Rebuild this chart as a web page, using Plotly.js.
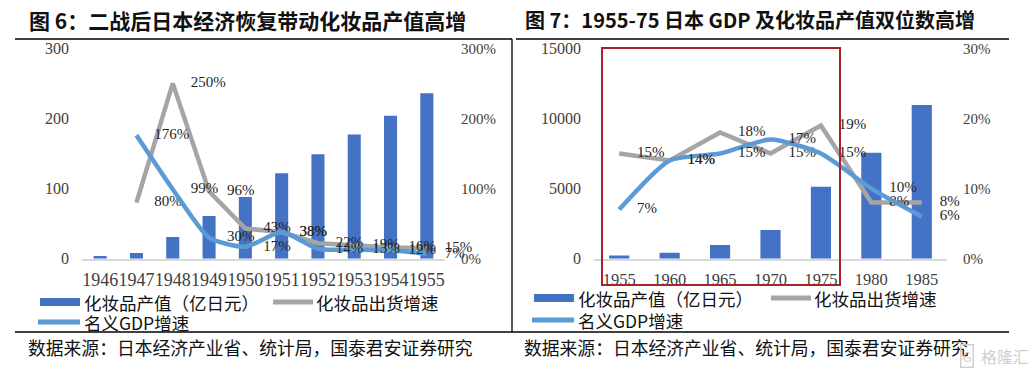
<!DOCTYPE html>
<html>
<head>
<meta charset="utf-8">
<script src="https://cdn.plot.ly/plotly-3.0.1.min.js"></script>
<style>html,body{margin:0;padding:0;background:#fff;}#chart{width:1032px;height:372px;}</style>
</head>
<body>
<div id="chart"></div>
<script>
// ---- Data ----
var years1 = ['1946','1947','1948','1949','1950','1951','1952','1953','1954','1955'];
var cosmeticOutput1 = [4, 8, 31, 61, 88, 122, 149, 177, 204, 236];       // 化妆品产值（亿日元）
var shipmentGrowth1 = [null, 80, 250, 96, 43, 38, 22, 19, 16, 15];        // 化妆品出货增速 (%)
var gdpGrowth1 = [null, 176, 99, 30, 17, 38, 14, 13, 12, 7];              // 名义GDP增速 (%)

var years2 = ['1955','1960','1965','1970','1975','1980','1985'];
var cosmeticOutput2 = [236, 430, 980, 2050, 5130, 7560, 10950];
var shipmentGrowth2 = [15, 14, 18, 15, 19, 8, 8];
var gdpGrowth2 = [7, 14, 15, 17, 15, 10, 6];

var leftTicks1 = [0, 100, 200, 300];
var rightTicks1 = [0, 100, 200, 300];
var rightLabels1 = ['0%', '100%', '200%', '300%'];
var leftTicks2 = [0, 5000, 10000, 15000];
var leftLabels2 = ['0', '5000', '10000', '15000'];
var rightTicks2 = [0, 10, 20, 30];
var rightLabels2 = ['0%', '10%', '20%', '30%'];

var names = ['化妆品产值（亿日元）', '化妆品出货增速', '名义GDP增速'];
var title1 = '图 6：二战后日本经济恢复带动化妆品产值高增';
var title2 = '图 7：1955-75 日本 GDP 及化妆品产值双位数高增';
var sourceText = '数据来源：日本经济产业省、统计局，国泰君安证券研究';

// ---- Styles ----
var W = 1032, H = 372;
var BAR = '#4472C4', GREY = '#A5A5A5', BLUE = '#5B9BD5';
var SERIF = '"Liberation Serif", "Times New Roman", serif';
var CJK = '"Noto Sans CJK SC", "Noto Sans", sans-serif';
function px(x){ return x / W; }
function py(y){ return 1 - y / H; }
function pct(arr){ return arr.map(function(v){ return v === null ? '' : v + '%'; }); }

function lineTrace(xs, ys, color, xa, ya, smooth){
  return {
    type: 'scatter', mode: 'lines+markers+text', x: xs, y: ys,
    xaxis: xa, yaxis: ya,
    line: {color: color, width: 4.5, shape: smooth ? 'spline' : 'linear', smoothing: 0.6},
    marker: {size: 27, color: 'rgba(0,0,0,0)'},
    text: pct(ys), textposition: 'middle right',
    textfont: {family: SERIF, size: 15, color: '#262626'},
    cliponaxis: false, hoverinfo: 'skip', showlegend: false
  };
}

var traces = [
  {type: 'bar', x: years1, y: cosmeticOutput1, xaxis: 'x', yaxis: 'y', width: 0.36,
   marker: {color: BAR}, hoverinfo: 'skip', showlegend: false},
  lineTrace(years1, shipmentGrowth1, GREY, 'x', 'y2', false),
  lineTrace(years1, gdpGrowth1, BLUE, 'x', 'y2', true),
  {type: 'bar', x: years2, y: cosmeticOutput2, xaxis: 'x2', yaxis: 'y3', width: 0.4,
   marker: {color: BAR}, hoverinfo: 'skip', showlegend: false},
  lineTrace(years2, shipmentGrowth2, GREY, 'x2', 'y4', false),
  lineTrace(years2, gdpGrowth2, BLUE, 'x2', 'y4', true)
];

var yDom = [py(258.7), py(48.3)];
var tickColor = '#404040';
function xAxis(dom, n, size){
  return {domain: dom, type: 'category', range: [-0.5, n - 0.5], showgrid: false, zeroline: false,
    showline: true, linecolor: '#D9D9D9', linewidth: 2, ticks: '', tickangle: 0,
    tickfont: {family: SERIF, size: size, color: tickColor}, ticklabelstandoff: 4, fixedrange: true};
}
function yAxis(range, ticks, labels, extra){
  var a = {domain: yDom, range: range, tickmode: 'array', tickvals: ticks,
    ticktext: labels || ticks.map(String), showgrid: false, zeroline: false,
    showline: false, ticks: '', tickfont: {family: SERIF, size: 16, color: tickColor},
    ticklabelstandoff: 12, fixedrange: true};
  for (var k in extra) a[k] = extra[k];
  return a;
}
var rightFont = {family: SERIF, size: 15, color: tickColor};

var layout = {
  width: W, height: H, margin: {l: 0, r: 0, t: 0, b: 0},
  paper_bgcolor: '#fff', plot_bgcolor: 'rgba(0,0,0,0)', showlegend: false,
  xaxis: xAxis([px(82), px(445)], years1.length, 18),
  xaxis2: xAxis([px(594), px(947)], years2.length, 16.5),
  yaxis: yAxis([0, 300], leftTicks1, null, {anchor: 'x'}),
  yaxis2: yAxis([0, 300], rightTicks1, rightLabels1, {anchor: 'x', overlaying: 'y', side: 'right', ticklabelstandoff: 15, tickfont: rightFont}),
  yaxis3: yAxis([0, 15000], leftTicks2, leftLabels2, {anchor: 'x2'}),
  yaxis4: yAxis([0, 30], rightTicks2, rightLabels2, {anchor: 'x2', overlaying: 'y3', side: 'right', ticklabelstandoff: 15, tickfont: rightFont}),
  shapes: [], annotations: []
};

function hline(x0, x1, y, color, w){
  layout.shapes.push({type: 'line', xref: 'paper', yref: 'paper', x0: px(x0), x1: px(x1), y0: py(y), y1: py(y), line: {color: color, width: w}});
}
function vline(x, y0, y1, color, w){
  layout.shapes.push({type: 'line', xref: 'paper', yref: 'paper', x0: px(x), x1: px(x), y0: py(y0), y1: py(y1), line: {color: color, width: w}});
}
function text(t, x, y, size, opts){
  var a = {xref: 'paper', yref: 'paper', x: px(x), y: py(y), xanchor: 'left', yanchor: 'middle',
    text: t, showarrow: false, font: {family: CJK, size: size, color: '#111'}};
  for (var k in (opts||{})) a[k] = opts[k];
  layout.annotations.push(a);
}

// frames
hline(15, 512, 39, '#000', 1.3);
hline(516, 1009, 39, '#000', 1.3);
vline(512, 39, 332, '#000', 1.3);
hline(15, 1009, 332, '#000', 1.3);
// titles
text('<b>' + title1 + '</b>', 27, 20, 21);
text('<b>' + title2 + '</b>', 523, 20, 20);
// red highlight box (chart 2)
layout.shapes.push({type: 'rect', xref: 'paper', yref: 'paper', x0: px(602), x1: px(840), y0: py(285), y1: py(48),
  line: {color: '#A8232A', width: 2}, fillcolor: 'rgba(0,0,0,0)', layer: 'above'});

// legends
function legend(x, y1, y2, gx){
  layout.shapes.push({type: 'rect', xref: 'paper', yref: 'paper', x0: px(x), x1: px(x + 40), y0: py(y1 + 4), y1: py(y1 - 4), line: {width: 0}, fillcolor: BAR});
  text(names[0], x + 42, y1, 17.5);
  layout.shapes.push({type: 'line', xref: 'paper', yref: 'paper', x0: px(gx), x1: px(gx + 40), y0: py(y1), y1: py(y1), line: {color: GREY, width: 5}});
  text(names[1], gx + 41, y1, 17.5);
  layout.shapes.push({type: 'line', xref: 'paper', yref: 'paper', x0: px(x - 2), x1: px(x + 40), y0: py(y2), y1: py(y2), line: {color: BLUE, width: 5}});
  text(names[2], x + 42, y2, 17.5);
}
legend(40, 302, 322, 273);
legend(534, 298, 320, 771);

// sources
text(sourceText, 26, 347, 17.8);
text(sourceText, 522, 347, 17.8);
// watermark
text('G', 960, 356, 13, {font: {family: CJK, size: 13, color: '#d0d0d0'}, bordercolor: '#d0d0d0', borderwidth: 1.5, borderpad: 1});
text('格隆汇', 979, 356, 16, {font: {family: CJK, size: 16, color: '#cfcfcf'}});

Plotly.newPlot('chart', traces, layout, {displayModeBar: false, staticPlot: true});
</script>
</body>
</html>
